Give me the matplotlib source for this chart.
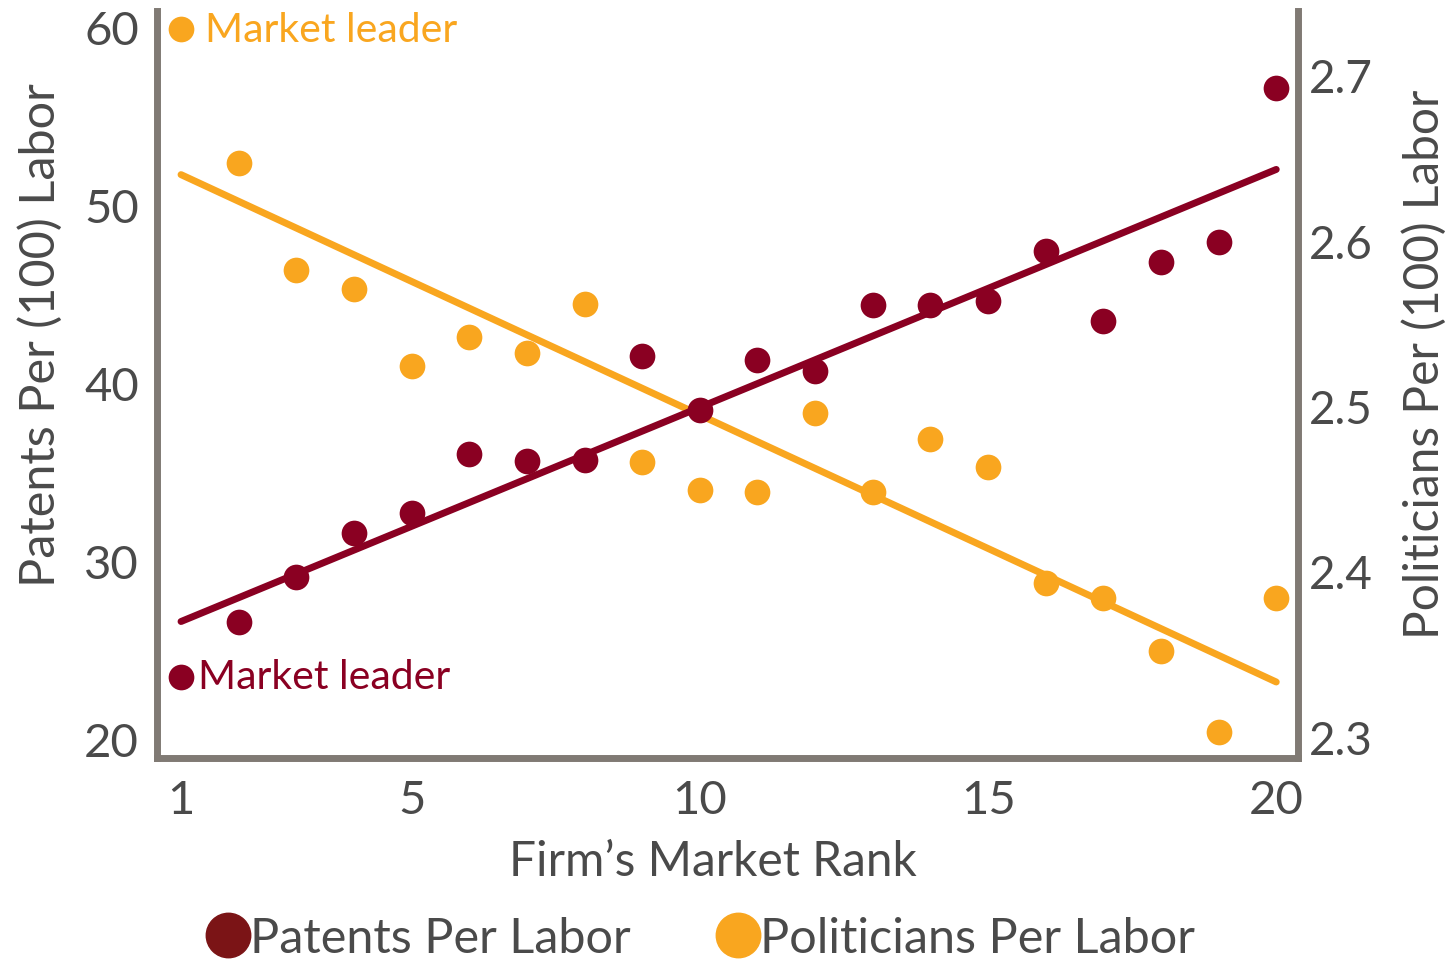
import matplotlib.pyplot as plt
from matplotlib.lines import Line2D

plt.rcParams['font.family'] = ['Lato', 'DejaVu Sans']

# Data
rank = list(range(1, 21))
patents = [23.5, 26.6, 29.1, 31.6, 32.7, 36.0, 35.6, 35.7, 41.5, 38.5,
           41.3, 40.7, 44.4, 44.4, 44.6, 47.4, 43.5, 46.8, 47.9, 56.6]
politicians = [2.728, 2.647, 2.582, 2.571, 2.524, 2.542, 2.532, 2.562, 2.466, 2.449,
               2.448, 2.496, 2.448, 2.480, 2.463, 2.393, 2.384, 2.352, 2.303, 2.384]

# Fitted trend lines (end points as drawn)
trend_x = [1, 20]
patents_trend = [26.6, 52.0]
politicians_trend = [2.640, 2.333]

x_ticks = [1, 5, 10, 15, 20]
left_ticks = [20, 30, 40, 50, 60]
right_ticks = [2.3, 2.4, 2.5, 2.6, 2.7]

red = '#8A0022'
orange = '#F9A61F'
legend_red = '#7B1416'
spine_col = '#807A74'
text_col = '#4A4A4A'

fig = plt.figure(figsize=(14.55, 9.62), dpi=100)
ax = fig.add_axes([0.1079, 0.211, 0.7843, 0.7765])
ax2 = ax.twinx()

# politicians on the right axis
ax2.plot(trend_x, politicians_trend, color=orange, lw=5, solid_capstyle='round', zorder=2)
ax2.plot(rank, politicians, 'o', color=orange, markersize=18.5, mec='none', zorder=3, clip_on=False)

# patents on the left axis (drawn on top)
ax.plot(trend_x, patents_trend, color=red, lw=5, solid_capstyle='round', zorder=2)
ax.plot(rank, patents, 'o', color=red, markersize=18.5, mec='none', zorder=3, clip_on=False)
ax.set_zorder(ax2.get_zorder() + 1)
ax.patch.set_visible(False)

ax.set_xlim(0.583, 20.38)
ax.set_ylim(18.93, 60.9)
ax2.set_ylim(2.287, 2.739)

ax.set_xticks(x_ticks)
ax.set_yticks(left_ticks)
ax2.set_yticks(right_ticks)
ax2.set_yticklabels([f'{v:.1f}' for v in right_ticks])

for a in (ax, ax2):
    for s in a.spines.values():
        s.set_visible(False)
        s.set_color(spine_col)
        s.set_linewidth(5)
ax.spines['left'].set_visible(True)
ax.spines['bottom'].set_visible(True)
ax2.spines['right'].set_visible(True)

ax.tick_params(axis='y', length=0, pad=13, labelsize=34, labelcolor=text_col)
ax.tick_params(axis='x', length=0, pad=15, labelsize=34, labelcolor=text_col)
ax2.tick_params(axis='y', length=0, pad=8, labelsize=33, labelcolor=text_col)

ax.set_xlabel("Firm\u2019s Market Rank", fontsize=34.5, color=text_col, va='center')
ax.xaxis.set_label_coords(0.487, -0.138)
ax.set_ylabel("Patents Per (100) Labor", fontsize=35, color=text_col, va='center')
ax.yaxis.set_label_coords(-0.1025, 0.567)
ax2.set_ylabel("Politicians Per (100) Labor", fontsize=34.5, color=text_col,
               rotation=90, va='center')
ax2.yaxis.set_label_coords(1.111, 0.529)

ax.annotate('Market leader', xy=(rank[0], patents[0]), xytext=(12, 0),
            textcoords='offset points', va='center', ha='left',
            fontsize=29.5, color=red)
ax2.annotate('Market leader', xy=(rank[0], politicians[0]), xytext=(17, 0),
             textcoords='offset points', va='center', ha='left',
             fontsize=29.5, color=orange)

handles = [Line2D([], [], marker='o', ls='', color=legend_red, markersize=32),
           Line2D([], [], marker='o', ls='', color=orange, markersize=32)]
fig.legend(handles, ['Patents Per Labor', 'Politicians Per Labor'],
           loc='center', bbox_to_anchor=(0.479, 0.024), ncol=2, frameon=False,
           fontsize=35, labelcolor=text_col, handletextpad=-0.15,
           columnspacing=1.6, handlelength=1.2)

fig.savefig('out.png', dpi=100)
